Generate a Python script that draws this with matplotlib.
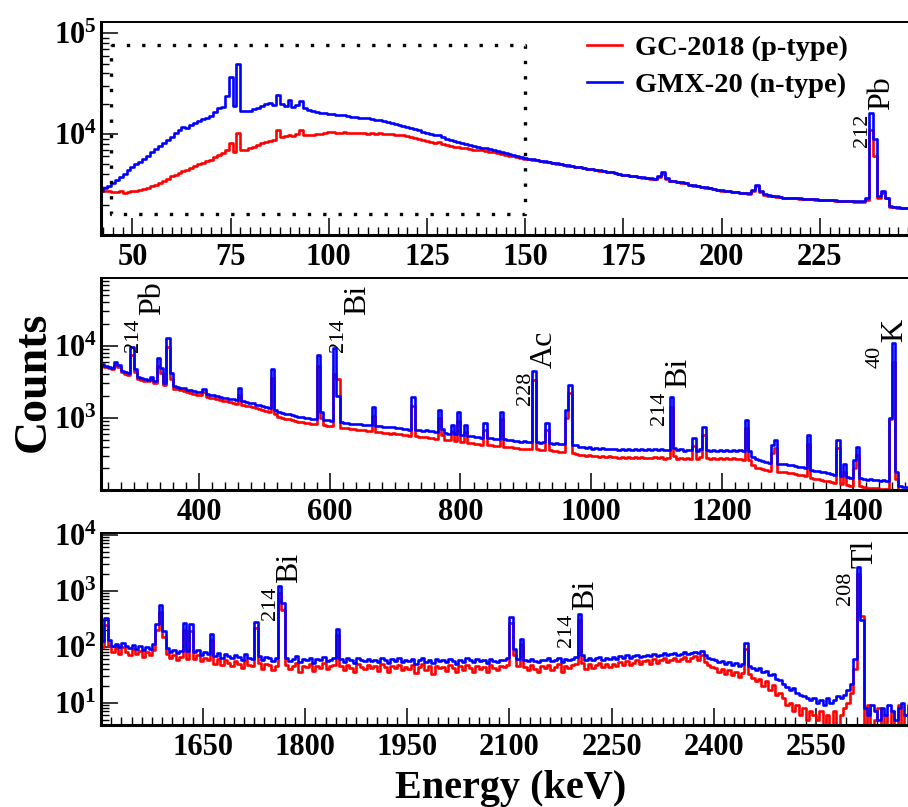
import numpy as np
import matplotlib
matplotlib.use("Agg")
import matplotlib.pyplot as plt
from matplotlib.ticker import FixedLocator, MultipleLocator, LogLocator, NullFormatter
from matplotlib.transforms import offset_copy

plt.rcParams['font.family'] = 'Liberation Serif'
plt.rcParams['mathtext.fontset'] = 'custom'
plt.rcParams['mathtext.rm'] = 'Liberation Serif'
plt.rcParams['mathtext.bf'] = 'Liberation Serif:bold'

# ---- low-energy part, 1 keV bins (centres 42 ... 249 keV)
energy_low = np.arange(42, 250)
gc_low = [
    2800, 2750, 2700, 2680, 2650, 2700, 2620, 2680, 2700, 2750,
    2800, 2850, 2950, 3050, 3150, 3300, 3450, 3600, 3800, 3950,
    4100, 4300, 4450, 4600, 4800, 5000, 5200, 5400, 5600, 5900,
    6200, 6500, 7000, 8100, 6600, 10200, 7000, 7000, 7200, 7500,
    7800, 8100, 8400, 8600, 8700, 11000, 9400, 9500, 9700, 9600,
    10000, 11000, 9800, 9800, 9900, 10000, 10100, 10300, 10400, 10400,
    10300, 10300, 10400, 10200, 10300, 10200, 10200, 10300, 10100, 10200,
    10100, 10200, 10000, 10100, 10000, 9900, 9800, 9700, 9600, 9400,
    9200, 9000, 8800, 8500, 8300, 8200, 8300, 8000, 7800, 7700,
    7500, 7400, 7300, 7200, 7100, 7000, 6950, 6900, 6850, 6700,
    6600, 6450, 6300, 6200, 6100, 6000, 5900, 5800, 5700, 5640,
    5560, 5480, 5400, 5330, 5250, 5170, 5100, 5020, 4950, 4880,
    4810, 4740, 4680, 4610, 4540, 4470, 4410, 4350, 4290, 4220,
    4170, 4110, 4040, 3960, 3900, 3850, 3800, 3760, 3710, 3670,
    3630, 3590, 3720, 4000, 3600, 3440, 3390, 3350, 3300, 3260,
    3140, 3090, 3050, 3000, 2950, 2900, 2850, 2800, 2760, 2730,
    2700, 2680, 2640, 2620, 2590, 2560, 2740, 3050, 2660, 2510,
    2460, 2430, 2400, 2370, 2340, 2320, 2300, 2300, 2290, 2280,
    2260, 2250, 2240, 2230, 2220, 2200, 2200, 2190, 2180, 2170,
    2160, 2150, 2140, 2140, 2130, 2200, 11000, 6000, 2350, 2600,
    2300, 1900, 1880, 1860, 1850, 1850, 1840, 1840,
]
gmx_low = [
    2750, 2900, 3050, 3250, 3500, 3750, 4050, 4400, 4750, 5000,
    5300, 5700, 6100, 6600, 7100, 7600, 8200, 8800, 9400, 10200,
    11000, 11700, 11400, 12300, 12900, 13400, 14000, 14600, 15200, 16600,
    18000, 18500, 24000, 37000, 19000, 49000, 17000, 16800, 17100, 17600,
    18200, 18900, 19800, 20500, 19600, 24500, 19800, 19200, 22000, 18600,
    19400, 21500, 18200, 17300, 16900, 16600, 16300, 16100, 15900, 15700,
    15600, 15400, 15300, 15100, 14900, 14800, 14600, 14400, 14300, 14100,
    13900, 13700, 13500, 13200, 13000, 12700, 12400, 12100, 11800, 11500,
    11200, 10900, 10600, 10300, 10000, 9800, 9900, 9400, 8900, 8700,
    8500, 8300, 8100, 7900, 7750, 7600, 7450, 7300, 7300, 7100,
    6950, 6800, 6650, 6500, 6350, 6200, 6050, 5900, 5780, 5700,
    5610, 5520, 5440, 5360, 5280, 5200, 5120, 5050, 4970, 4900,
    4830, 4760, 4690, 4620, 4550, 4480, 4420, 4360, 4300, 4240,
    4180, 4120, 4060, 3950, 3910, 3860, 3820, 3770, 3730, 3690,
    3640, 3600, 3800, 4170, 3650, 3460, 3410, 3370, 3320, 3280,
    3150, 3110, 3060, 3010, 2960, 2910, 2860, 2820, 2770, 2750,
    2720, 2690, 2660, 2630, 2600, 2580, 2800, 3160, 2700, 2520,
    2480, 2440, 2410, 2380, 2350, 2330, 2320, 2310, 2300, 2290,
    2280, 2270, 2250, 2240, 2230, 2220, 2210, 2200, 2190, 2180,
    2170, 2160, 2155, 2150, 2150, 2300, 16000, 9000, 2450, 2700,
    2350, 1950, 1900, 1880, 1870, 1860, 1860, 1850,
]

# ---- middle part, 5 keV bins (250 ... 1500 keV)
energy_mid = np.arange(252.5, 1500, 5)
gc_mid = [
    5300, 5100, 4950, 4700, 5400, 5000, 4300, 4100, 3950, 7500,
    4300, 3500, 3400, 3280, 3200, 3400, 3050, 5200, 4200, 2850,
    9500, 3500, 2550, 2480, 2400, 2350, 2280, 2220, 2160, 2100,
    2050, 2250, 1960, 1900, 1860, 1800, 1760, 1720, 1690, 1640,
    1610, 1580, 2100, 1510, 1480, 1440, 1400, 1360, 1330, 1290,
    1260, 1210, 3600, 1120, 1040, 1000, 970, 960, 930, 920,
    890, 880, 855, 845, 820, 815, 5200, 1000, 790, 780,
    760, 4000, 3500, 735, 720, 715, 700, 695, 685, 680,
    670, 665, 650, 1050, 640, 635, 620, 620, 605, 610,
    595, 595, 580, 575, 560, 1450, 555, 550, 540, 540,
    530, 525, 515, 1000, 570, 500, 490, 640, 480, 900,
    465, 630, 450, 445, 435, 435, 425, 680, 415, 415,
    405, 410, 950, 400, 390, 390, 380, 380, 370, 375,
    365, 370, 3400, 365, 355, 360, 680, 355, 345, 345,
    335, 340, 1000, 2200, 325, 320, 310, 310, 300, 305,
    295, 300, 290, 296, 286, 292, 284, 290, 280, 288,
    281, 287, 278, 284, 276, 285, 275, 282, 278, 283,
    275, 284, 273, 281, 1400, 300, 272, 282, 270, 281,
    272, 410, 270, 283, 580, 279, 270, 280, 268, 277,
    270, 278, 268, 275, 265, 273, 262, 720, 262, 225,
    205, 200, 194, 191, 186, 330, 380, 180, 176, 175,
    174, 170, 167, 162, 159, 154, 440, 148, 144, 140,
    139, 135, 133, 129, 127, 380, 121, 175, 117, 115,
    200, 310, 112, 110, 107, 108, 105, 106, 103, 104,
    102, 950, 6000, 140, 92, 90, 88, 89, 86, 87,
]
gmx_mid = [
    5500, 5300, 5150, 4900, 6000, 5400, 4500, 4300, 4150, 9500,
    4800, 3700, 3620, 3480, 3400, 3700, 3250, 6800, 4900, 3050,
    13000, 4200, 2750, 2680, 2600, 2560, 2470, 2430, 2350, 2310,
    2250, 2500, 2160, 2090, 2060, 1990, 1960, 1910, 1890, 1830,
    1800, 1770, 2600, 1690, 1670, 1610, 1590, 1530, 1510, 1450,
    1430, 1370, 4800, 1290, 1200, 1160, 1120, 1115, 1080, 1075,
    1040, 1035, 1000, 995, 965, 970, 7500, 1200, 935, 925,
    900, 9400, 2000, 875, 855, 855, 835, 835, 820, 820,
    805, 805, 785, 1400, 775, 775, 755, 755, 740, 745,
    730, 730, 710, 710, 690, 1950, 685, 685, 665, 670,
    655, 655, 635, 1300, 700, 625, 605, 800, 595, 1200,
    575, 800, 555, 555, 540, 545, 530, 860, 520, 525,
    510, 515, 1200, 505, 490, 495, 480, 485, 470, 475,
    465, 470, 4500, 465, 450, 460, 860, 455, 440, 445,
    430, 435, 1300, 2900, 415, 415, 395, 400, 385, 390,
    375, 385, 370, 380, 368, 375, 365, 374, 363, 372,
    362, 370, 360, 368, 358, 369, 357, 366, 360, 365,
    356, 366, 355, 363, 1950, 385, 354, 365, 352, 364,
    355, 530, 353, 366, 740, 362, 352, 363, 350, 360,
    352, 362, 350, 358, 347, 356, 345, 940, 342, 290,
    265, 258, 250, 247, 240, 420, 490, 232, 228, 226,
    224, 219, 216, 209, 206, 199, 570, 191, 186, 181,
    180, 175, 172, 167, 164, 490, 157, 230, 152, 149,
    260, 400, 145, 143, 139, 140, 136, 138, 134, 136,
    133, 1000, 11000, 180, 112, 111, 109, 110, 107, 108,
]

# ---- high-energy part, 5 keV bins (1500 ... 2700 keV)
energy_high = np.arange(1502.5, 2700, 5)
gc_high = [
    100, 240, 105, 80, 95, 75, 100, 82, 70, 90,
    75, 85, 65, 80, 70, 88, 200, 420, 150, 75,
    62, 70, 58, 66, 200, 60, 190, 60, 70, 55,
    62, 58, 130, 50, 61, 47, 58, 52, 45, 56,
    50, 42, 58, 48, 45, 220, 52, 40, 50, 47,
    38, 45, 900, 450, 48, 40, 46, 52, 36, 45,
    44, 50, 37, 46, 42, 52, 40, 45, 48, 160,
    46, 38, 48, 42, 35, 49, 44, 40, 47, 41,
    45, 37, 50, 43, 36, 46, 41, 48, 38, 44,
    40, 47, 34, 43, 49, 38, 45, 32, 46, 41,
    43, 37, 47, 41, 35, 45, 39, 48, 42, 36,
    46, 40, 44, 36, 47, 41, 38, 45, 43, 48,
    260, 70, 45, 110, 43, 38, 47, 40, 35, 45,
    42, 48, 38, 44, 49, 36, 46, 41, 47, 50,
    300, 52, 40, 49, 42, 47, 52, 43, 50, 44,
    50, 45, 54, 47, 56, 48, 52, 58, 50, 55,
    57, 50, 60, 52, 58, 62, 54, 59, 64, 55,
    60, 65, 56, 62, 67, 58, 70, 54, 48, 44,
    42, 36, 40, 33, 39, 31, 36, 29, 34, 90,
    32, 28, 24, 27, 20, 24, 17, 21, 14, 15,
    12, 9, 10, 7, 9, 6, 8, 5, 7, 6,
    5, 7, 3, 6, 4, 7, 3, 6, 8, 10,
    15, 40, 2000, 350, 3, 9, 2, 5, 8, 3,
    6, 2, 7, 4, 9, 3, 6, 2, 8, 5,
]
gmx_high = [
    125, 320, 130, 105, 112, 98, 118, 104, 96, 108,
    92, 101, 86, 97, 90, 110, 250, 560, 190, 95,
    82, 88, 76, 84, 260, 84, 250, 79, 86, 72,
    80, 75, 170, 68, 78, 64, 73, 69, 62, 71,
    66, 58, 74, 63, 60, 280, 68, 57, 65, 62,
    55, 64, 1200, 600, 64, 56, 61, 67, 53, 60,
    58, 64, 52, 61, 57, 66, 55, 59, 63, 210,
    60, 54, 62, 57, 51, 63, 58, 55, 61, 56,
    59, 53, 64, 57, 52, 60, 56, 62, 54, 58,
    55, 61, 50, 57, 63, 54, 58, 52, 60, 55,
    57, 53, 61, 56, 50, 59, 54, 62, 57, 53,
    60, 55, 58, 52, 61, 56, 54, 59, 57, 62,
    340, 90, 60, 140, 58, 55, 61, 56, 53, 59,
    57, 62, 55, 58, 63, 54, 60, 57, 61, 65,
    390, 70, 59, 63, 57, 62, 66, 58, 64, 60,
    65, 61, 68, 63, 70, 64, 67, 72, 66, 69,
    71, 67, 74, 69, 72, 76, 70, 73, 78, 71,
    75, 79, 73, 77, 81, 76, 84, 70, 64, 60,
    57, 53, 55, 50, 54, 48, 51, 46, 49, 115,
    45, 42, 39, 41, 35, 37, 31, 33, 27, 25,
    22, 19, 17, 18, 15, 14, 13, 12, 11, 12,
    10, 11, 9, 12, 10, 11, 13, 12, 14, 17,
    22, 60, 2600, 300, 8, 6, 9, 7, 5, 8,
    6, 9, 7, 5, 8, 10, 6, 9, 7, 8,
]

detectors = ['GC-2018 (p-type)', 'GMX-20 (n-type)']
colors = ['#ff0000', '#0000ff']

# dotted box on the top pad (keV, counts)
box_energy = (44.6, 150.0)
box_counts = (1.6e3, 7.7e4)

# nuclide tags: (energy, counts) of the tag, mass number, element
tags_low = [(242.6, 1.74e4, '212', 'Pb')]
tags_mid = [(340.3, 2.68e4, '214', 'Pb'), (653.9, 2.68e4, '214', 'Bi'),
            (940.0, 4.96e3, '228', 'Ac'), (1145.0, 2.62e3, '214', 'Bi'),
            (1475.0, 1.14e4, '40', 'K')]
tags_high = [(1787.9, 1.37e3, '214', 'Bi'), (2222.7, 452, '214', 'Bi'),
             (2632.5, 2.54e3, '208', 'Tl')]

panels = [
    dict(rect=[0.1112, 0.7088, 0.8998, 0.2639], x=energy_low, gc=gc_low, gmx=gmx_low,
         xlim=(42, 250), ylim=(1e3, 1.29e5), xt=np.arange(50, 250, 25), xm=2.5,
         yt=[1e4, 1e5], tags=tags_low),
    dict(rect=[0.1112, 0.3928, 0.8998, 0.2627], x=energy_mid, gc=gc_mid, gmx=gmx_mid,
         xlim=(250, 1500), ylim=(100, 8.7e4), xt=np.arange(400, 1500, 200), xm=20,
         yt=[1e3, 1e4], tags=tags_mid),
    dict(rect=[0.1112, 0.1016, 0.8998, 0.2379], x=energy_high, gc=gc_high, gmx=gmx_high,
         xlim=(1500, 2700), ylim=(4, 1.07e4), xt=np.arange(1650, 2700, 150), xm=15,
         yt=[1e1, 1e2, 1e3, 1e4], tags=tags_high),
]

fig = plt.figure(figsize=(9.08, 8.07), dpi=100)
axes = []
for p in panels:
    ax = fig.add_axes(p['rect'])
    ax.plot(p['x'], p['gc'], drawstyle='steps-mid', color=colors[0], lw=1.9, label=detectors[0])
    ax.plot(p['x'], p['gmx'], drawstyle='steps-mid', color=colors[1], lw=1.9, label=detectors[1])
    ax.set_yscale('log')
    ax.set_xlim(*p['xlim'])
    ax.set_ylim(*p['ylim'])

    ax.set_xticks(p['xt'])
    ax.set_xticklabels([str(v) for v in p['xt']], fontsize=22, fontweight='bold')
    ax.xaxis.set_minor_locator(MultipleLocator(p['xm']))
    ax.yaxis.set_major_locator(FixedLocator(p['yt']))
    ax.set_yticklabels([r'$\mathbf{10^{%d}}$' % round(np.log10(v)) for v in p['yt']], fontsize=22)
    ax.yaxis.set_minor_locator(LogLocator(base=10, subs=np.arange(2, 10), numticks=20))
    ax.yaxis.set_minor_formatter(NullFormatter())

    ax.tick_params(which='major', direction='in', length=12, width=1.1, top=False, right=False)
    ax.tick_params(which='minor', direction='in', length=5.5, width=1.0, top=False, right=False)
    ax.tick_params(axis='x', pad=6)
    ax.tick_params(axis='y', pad=3)
    for side, w in [('left', 2.2), ('bottom', 2.2), ('top', 1.4), ('right', 1.4)]:
        ax.spines[side].set_linewidth(w)

    # element tags, mass number written as a raised prefix
    for e, c, mass, sym in p['tags']:
        ax.text(e, c, sym, rotation=90, rotation_mode='anchor', ha='left', va='baseline',
                fontsize=23, clip_on=False)
        shifted = offset_copy(ax.transData, fig=fig, x=-22, y=-4, units='dots')
        ax.text(e, c, mass, rotation=90, rotation_mode='anchor', ha='right', va='baseline',
                fontsize=16, transform=shifted, clip_on=False)
    axes.append(ax)

top = axes[0]
bx = [box_energy[0], box_energy[1], box_energy[1], box_energy[0], box_energy[0]]
by = [box_counts[1], box_counts[1], box_counts[0], box_counts[0], box_counts[1]]
top.plot(bx, by, color='black', lw=2.4, ls=(0, (1, 3.6)), zorder=5)
top.legend(loc='upper left', bbox_to_anchor=(0.595, 0.94), frameon=False,
           prop={'size': 20.5, 'weight': 'bold'}, handlelength=1.23, handletextpad=0.46,
           labelspacing=0.4, borderpad=0, borderaxespad=0)

fig.text(0.0496, 0.5266, 'Counts', rotation=90, rotation_mode='anchor', ha='center',
         va='baseline', fontsize=33, fontweight='bold')
fig.text(0.5622, 0.0112, 'Energy (keV)', ha='center', va='baseline', fontsize=29,
         fontweight='bold')

fig.savefig('out.png', dpi=100)
